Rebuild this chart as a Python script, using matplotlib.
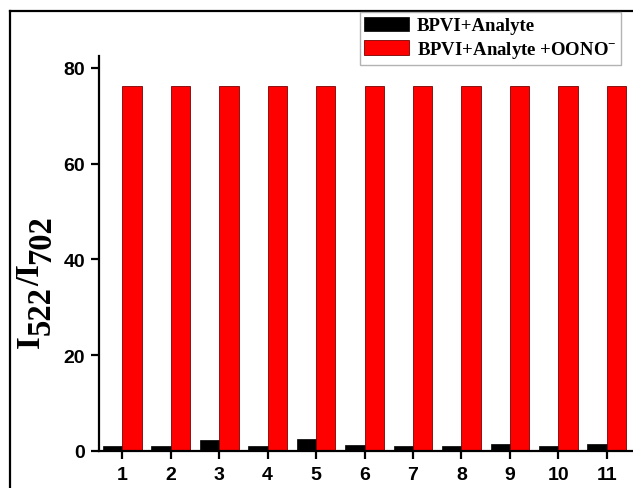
import matplotlib
matplotlib.use("Agg")
import matplotlib.pyplot as plt
from matplotlib.lines import Line2D
import numpy as np

# I522/I702 ratio for each analyte, probe alone vs. probe + peroxynitrite
samples = [1, 2, 3, 4, 5, 6, 7, 8, 9, 10, 11]
probe_only = [1.1, 0.95, 2.3, 1.1, 2.6, 1.25, 1.1, 1.1, 1.45, 1.1, 1.5]
probe_oono = [76.3, 76.3, 76.3, 76.3, 76.3, 76.3, 76.3, 76.3, 76.3, 76.3, 76.3]
legend_labels = ["BPVI+Analyte", "BPVI+Analyte +OONO$^{\\mathbf{-}}$"]
# y label pieces: (text, lowered as subscript)
ylabel_parts = [("I", False), ("522", True), ("/I", False), ("702", True)]

plt.rcParams["mathtext.fontset"] = "custom"
plt.rcParams["mathtext.rm"] = "Liberation Serif:bold"
plt.rcParams["mathtext.bf"] = "Liberation Serif:bold"
plt.rcParams["mathtext.it"] = "Liberation Serif:bold"

W, H = 633, 489
fig = plt.figure(figsize=(W / 100, H / 100), dpi=100)
ax = fig.add_axes([99 / W, 1 - 452 / H, 1 - 99 / W, (452 - 57) / H])

x = np.array(samples)
w = 0.4
ax.bar(x - w / 2, probe_only, width=w, color="black", edgecolor="black",
       linewidth=0.5, label=legend_labels[0])
ax.bar(x + w / 2, probe_oono, width=w, color="#ff0000", edgecolor="#7a0000",
       linewidth=0.6, label=legend_labels[1])

ax.set_xlim(0.52, 11.54)
ax.set_ylim(0, 82.5)
ax.set_xticks(samples)
ax.set_yticks([0, 20, 40, 60, 80])

for s in ("top", "right"):
    ax.spines[s].set_visible(False)
for s in ("left", "bottom"):
    ax.spines[s].set_linewidth(1.6)
ax.tick_params(direction="out", width=1.6, length=6)
ax.tick_params(axis="x", pad=5)
ax.tick_params(axis="y", pad=4)
for lab in ax.get_xticklabels() + ax.get_yticklabels():
    lab.set_fontfamily("Liberation Sans")
    lab.set_fontweight("bold")
    lab.set_fontsize(14)

# rotated y label built piece by piece so the subscripts keep full size
renderer = fig.canvas.get_renderer()
ypix = 348.0
for txt, sub in ylabel_parts:
    xpix = 39.0 + (11.0 if sub else 0.0)
    t = fig.text(xpix / W, 1 - ypix / H, txt, rotation=90, rotation_mode="anchor",
                 ha="left", va="baseline", fontsize=23.5,
                 family="Liberation Serif", weight="bold")
    ypix -= t.get_window_extent(renderer).height

leg = fig.legend(loc="upper right", bbox_to_anchor=(621 / W, 1 - 13 / H),
                 prop={"family": "Liberation Serif", "weight": "bold", "size": 13.5},
                 frameon=True, fancybox=False, edgecolor="#a0a0a0",
                 handlelength=2.4, handleheight=0.8, handletextpad=0.4,
                 labelspacing=0.25, borderpad=0.25, borderaxespad=0)
leg.get_frame().set_linewidth(1.0)

# outer frame lines along top and left of the figure
fig.add_artist(Line2D([9.5 / W, 1], [1 - 11.5 / H, 1 - 11.5 / H], color="black", lw=1.6))
fig.add_artist(Line2D([9.5 / W, 9.5 / W], [0, 1 - 11.5 / H], color="black", lw=1.6))

fig.savefig("out.png", dpi=100)
